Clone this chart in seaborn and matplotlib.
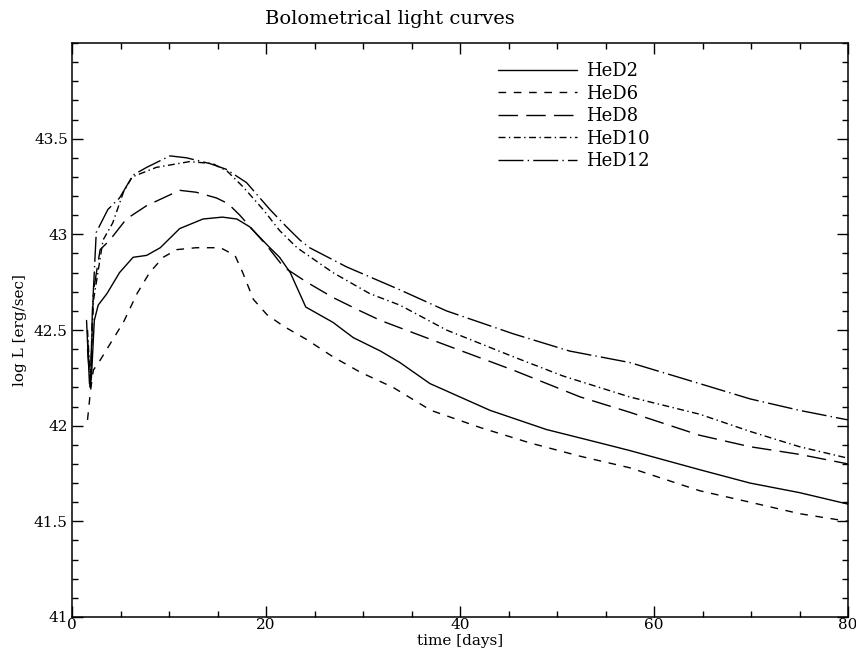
import matplotlib
matplotlib.use("Agg")
import matplotlib.pyplot as plt
from matplotlib.ticker import MultipleLocator
import numpy as np
import pandas as pd
import seaborn as sns

# Bolometric light curves of the helium-detonation models
models = ["HeD2", "HeD6", "HeD8", "HeD10", "HeD12"]

hed2_t = [1.5, 1.8, 2.0, 2.3, 2.7, 3.6, 4.9, 6.3, 7.7, 9.1, 11.1, 13.5, 15.5, 17.0,
          18.3, 20.4, 21.4, 22.5, 24.1, 26.2, 26.9, 29.0, 31.8, 33.8, 36.9, 43.1,
          48.9, 54.4, 57.5, 64.7, 69.9, 75.0, 80.0]
hed2_l = [42.55, 42.22, 42.25, 42.55, 42.63, 42.69, 42.80, 42.88, 42.89, 42.93, 43.03,
          43.08, 43.09, 43.08, 43.04, 42.93, 42.88, 42.80, 42.62, 42.56, 42.54, 42.46,
          42.39, 42.33, 42.22, 42.08, 41.98, 41.91, 41.87, 41.77, 41.70, 41.65, 41.59]

hed6_t = [1.6, 1.9, 2.2, 3.0, 4.2, 5.3, 6.7, 8.0, 9.4, 10.8, 12.8, 15.3, 16.8, 17.6,
          18.7, 20.1, 21.8, 24.2, 26.9, 29.7, 33.1, 37.0, 42.1, 47.2, 52.4, 57.5,
          64.7, 69.9, 75.0, 80.0]
hed6_l = [42.03, 42.18, 42.29, 42.35, 42.45, 42.54, 42.69, 42.80, 42.88, 42.92, 42.93,
          42.93, 42.89, 42.80, 42.66, 42.58, 42.52, 42.45, 42.36, 42.28, 42.20, 42.08,
          41.99, 41.91, 41.84, 41.78, 41.66, 41.60, 41.54, 41.50]

hed8_t = [1.6, 1.9, 2.2, 2.9, 3.9, 5.6, 7.7, 11.1, 12.8, 14.9, 16.1, 17.3, 18.7, 20.1,
          21.8, 24.2, 26.9, 29.7, 31.8, 38.6, 45.5, 52.4, 57.5, 64.7, 69.9, 75.0, 80.0]
hed8_l = [42.40, 42.20, 42.70, 42.92, 42.97, 43.08, 43.15, 43.23, 43.22, 43.19, 43.16,
          43.10, 43.02, 42.94, 42.83, 42.75, 42.67, 42.60, 42.55, 42.42, 42.29, 42.15,
          42.07, 41.95, 41.89, 41.85, 41.80]

hed10_t = [1.6, 1.9, 2.2, 3.2, 4.2, 5.3, 6.2, 8.7, 12.1, 14.5, 16.0, 17.6, 19.7, 21.4,
           23.2, 26.9, 30.7, 33.8, 38.6, 45.5, 50.6, 57.5, 64.7, 69.9, 75.0, 80.0]
hed10_l = [42.50, 42.22, 42.65, 42.97, 43.06, 43.22, 43.30, 43.35, 43.38, 43.37, 43.33,
           43.25, 43.13, 43.02, 42.93, 42.80, 42.69, 42.63, 42.50, 42.36, 42.26, 42.15,
           42.06, 41.97, 41.89, 41.83]

hed12_t = [1.6, 1.9, 2.1, 2.5, 3.7, 4.9, 6.3, 7.7, 10.1, 11.8, 14.2, 15.9, 18.0, 20.4,
           22.1, 23.5, 24.5, 28.3, 33.8, 38.6, 45.5, 51.3, 57.5, 64.7, 69.9, 75.0, 80.0]
hed12_l = [42.45, 42.20, 42.60, 43.01, 43.13, 43.19, 43.31, 43.35, 43.41, 43.40, 43.37,
           43.34, 43.27, 43.13, 43.04, 42.97, 42.93, 42.83, 42.71, 42.60, 42.48, 42.39,
           42.33, 42.22, 42.14, 42.08, 42.03]

series = {
    "HeD2": (hed2_t, hed2_l),
    "HeD6": (hed6_t, hed6_l),
    "HeD8": (hed8_t, hed8_l),
    "HeD10": (hed10_t, hed10_l),
    "HeD12": (hed12_t, hed12_l),
}
df = pd.concat(
    [pd.DataFrame({"time": t, "logL": l, "model": m}) for m, (t, l) in series.items()],
    ignore_index=True,
)

sns.set_style("ticks")
plt.rcParams["font.family"] = ["DejaVu Serif"]
plt.rcParams.update({"text.color": "black", "axes.labelcolor": "black",
                     "xtick.color": "black", "ytick.color": "black"})

fig = plt.figure(figsize=(8.56, 6.51), dpi=100)
ax = fig.add_axes([72 / 856, 1 - 617 / 651, (848 - 72) / 856, (617 - 43) / 651])

dash_styles = {
    "HeD2": "",
    "HeD6": (5.5, 5.5),
    "HeD8": (14, 6),
    "HeD10": (5, 2.5, 1, 2.5),
    "HeD12": (18, 3, 1, 3),
}
sns.lineplot(data=df, x="time", y="logL", hue="model", style="model",
             hue_order=models, style_order=models,
             palette=["black"] * 5, dashes=dash_styles, estimator=None,
             sort=False, linewidth=1.0, ax=ax, legend=False)

ax.set_xlim(0, 80)
ax.set_ylim(41, 44)
ax.xaxis.set_major_locator(MultipleLocator(20))
ax.xaxis.set_minor_locator(MultipleLocator(5))
ax.yaxis.set_major_locator(MultipleLocator(0.5))
ax.yaxis.set_minor_locator(MultipleLocator(0.1))
ax.set_yticks([41, 41.5, 42, 42.5, 43, 43.5])
ax.set_yticklabels(["41", "41.5", "42", "42.5", "43", "43.5"])
ax.tick_params(which="both", direction="in", top=True, right=True,
               labelsize=11, width=1.0, color="black")
ax.tick_params(which="major", length=8, pad=3)
ax.tick_params(axis="x", which="major", pad=1)
ax.tick_params(which="minor", length=4)
for s in ax.spines.values():
    s.set_linewidth(1.1)
    s.set_color("black")

ax.set_xlabel("time [days]", fontsize=11, labelpad=1)
ax.set_ylabel("log L [erg/sec]", fontsize=11, labelpad=5)
fig.text(390 / 856, 1 - 19 / 651, "Bolometrical light curves", ha="center",
         va="center", fontsize=14)

# legend drawn with proxy lines matching the curve styles
handles = []
for m in models:
    d = dash_styles[m]
    if d:
        h, = ax.plot([], [], color="black", lw=1.0, dashes=d)
    else:
        h, = ax.plot([], [], color="black", lw=1.0)
    handles.append(h)
ax.legend(handles, models, loc="upper left", bbox_to_anchor=(489 / 856, 1 - 53 / 651),
          bbox_transform=fig.transFigure, frameon=False, fontsize=13,
          handlelength=4.4, handletextpad=0.5, labelspacing=0.25, borderpad=0)

fig.savefig("out.png", dpi=100, facecolor="white")
